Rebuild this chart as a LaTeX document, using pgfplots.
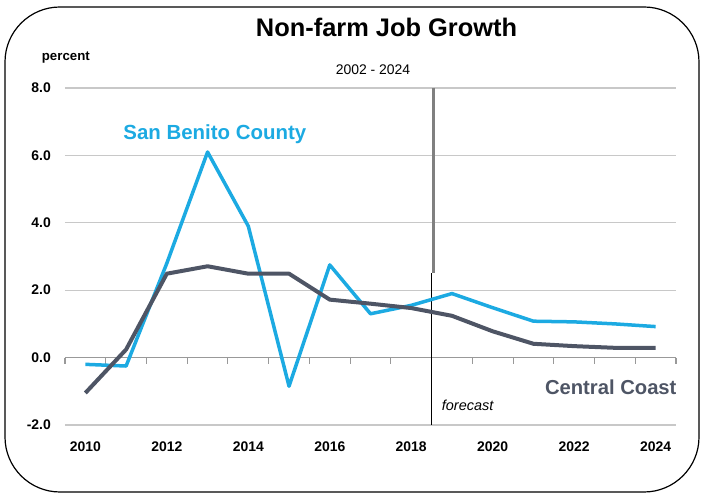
\documentclass[border=0pt]{standalone}
\usepackage{pgfplots}
\pgfplotsset{compat=1.18}
\usepackage{fontspec}
\setmainfont{Liberation Sans}
\definecolor{sbblue}{HTML}{1CAAE2}
\definecolor{ccgray}{HTML}{4E5565}
\definecolor{gridgray}{HTML}{C8C8C8}
\begin{document}
\begin{tikzpicture}[x=1bp,y=1bp]
\path[use as bounding box] (-65,-70) rectangle (640,425);
\draw[black, line width=1.2bp, rounded corners=55bp] (-60,-67) rectangle (634,418);
\begin{axis}[
  at={(0,0)}, anchor=south west, scale only axis,
  width=611bp, height=337bp,
  xmin=2009.5, xmax=2024.5, ymin=-2, ymax=8,
  xtick={2010,2012,...,2024}, ytick={-2,0,...,8},
  axis line style={draw=none}, major tick length=0,
  ymajorgrids, grid style={gridgray, line width=1.3bp},
  /pgf/number format/assume math mode=true,
  xticklabel style={font=\bfseries\fontsize{14}{14}\selectfont, inner sep=0pt, anchor=north, yshift=-17bp, /pgf/number format/1000 sep={}},
  yticklabel style={font=\bfseries\fontsize{14}{14}\selectfont, inner sep=0pt, anchor=east, xshift=-14bp, /pgf/number format/.cd, fixed, fixed zerofill, precision=1},
  clip=false,
]
\draw[gray!80, line width=1.3bp] (axis cs:2009.5,0) -- (axis cs:2024.5,0);
\pgfplotsinvokeforeach{2009.5,2010.5,2011.5,2012.5,2013.5,2014.5,2015.5,2016.5,2017.5,2018.5,2019.5,2020.5,2021.5,2022.5,2023.5,2024.5}{
  \draw[gray!80, line width=1.1bp] (axis cs:#1,0) -- (axis cs:#1,-0.2);
}
\draw[gray, line width=3bp] (axis cs:2018.55,8) -- (axis cs:2018.55,2.5);
\draw[black, line width=1.2bp] (axis cs:2018.5,2.5) -- (axis cs:2018.5,-2);
\addplot[sbblue, line width=3.5bp, line join=round] coordinates {
 (2010,-0.2) (2011,-0.25) (2012,2.8) (2013,6.1) (2014,3.9) (2015,-0.85)
 (2016,2.75) (2017,1.3) (2018,1.55) (2019,1.9) (2020,1.48) (2021,1.08)
 (2022,1.06) (2023,1.0) (2024,0.92)};
\addplot[ccgray, line width=4bp, line join=round] coordinates {
 (2010,-1.05) (2011,0.24) (2012,2.49) (2013,2.71) (2014,2.49) (2015,2.49)
 (2016,1.72) (2017,1.60) (2018,1.47) (2019,1.24) (2020,0.78) (2021,0.41)
 (2022,0.34) (2023,0.29) (2024,0.29)};
\end{axis}
\node[anchor=base, inner sep=0pt, font=\bfseries\fontsize{25.5}{26}\selectfont] at (321.5,388.3) {Non-farm Job Growth};
\node[anchor=base, inner sep=0pt, font=\fontsize{14}{14}\selectfont] at (308,350) {2002 - 2024};
\node[anchor=base west, inner sep=0pt, font=\bfseries\fontsize{13.3}{14}\selectfont] at (-23.3,364) {percent};
\node[anchor=base west, inner sep=0pt, text=sbblue, font=\bfseries\fontsize{20.5}{21}\selectfont] at (58.3,285) {San Benito County};
\node[anchor=base east, inner sep=0pt, text=ccgray, font=\bfseries\fontsize{20.3}{21}\selectfont] at (611.7,30) {Central Coast};
\node[anchor=base west, inner sep=0pt, font=\itshape\fontsize{14.5}{15}\selectfont] at (376.7,14) {forecast};
\end{tikzpicture}
\end{document}
